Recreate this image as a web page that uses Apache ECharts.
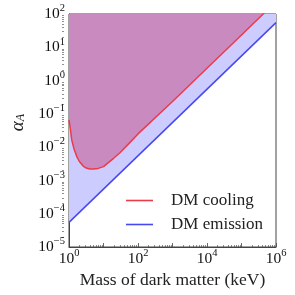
<!DOCTYPE html>
<html><head><meta charset="utf-8">
<script src="https://cdn.jsdelivr.net/npm/echarts@6/dist/echarts.min.js"></script>
<style>html,body{margin:0;padding:0;background:#fff}#c{width:295px;height:295px}</style>
</head><body><div id="c"></div>
<script>
// Data (keV, alpha_A)
const massCooling = [1, 1.1, 1.2, 1.4, 1.7, 2, 2.5, 3, 4, 5, 7, 10, 20, 30, 50, 100, 1e3, 1e4, 1e5, 1e6];
const alphaCooling = [0.066, 0.034, 0.0165, 0.0088, 0.0051, 0.0037, 0.0028, 0.0024, 0.0022, 0.0022, 0.0023, 0.0026, 0.0047, 0.0068, 0.0117, 0.025, 0.235, 2.35, 23.5, 235];
const massEmission = [1, 1e6];
const alphaEmission = [5.5e-5, 55];
const xMajor = [1, 10, 100, 1e3, 1e4, 1e5, 1e6];
const yMajor = [1e-5, 1e-4, 1e-3, 1e-2, 1e-1, 1, 10, 100];
const seriesNames = ['DM cooling', 'DM emission'];

function minorsOf(majors) {
  const out = [];
  for (let i = 0; i < majors.length - 1; i++) for (let k = 2; k <= 9; k++) out.push(majors[i] * k);
  return out;
}
const xMinor = minorsOf(xMajor);
const yMinor = minorsOf(yMajor);

const FONT = 'Liberation Serif';
const AX = '#444';
const rich = {
  b: {fontFamily: FONT, fontSize: 15.5, color: '#111', lineHeight: 16, verticalAlign: 'bottom'},
  s: {fontFamily: FONT, fontSize: 10.5, color: '#111', lineHeight: 10, verticalAlign: 'bottom', padding: [0, 0, 8, 0]}
};
function powLabel(v) {
  const e = Math.round(Math.log10(v));
  return '{b|10}{s|' + (e < 0 ? '\u2212' + (-e) : e) + '}';
}
const zip = (a, b) => a.map((v, i) => [v, b[i]]);

const chart = echarts.init(document.getElementById('c'), null, {renderer: 'canvas'});
chart.setOption({
  animation: false,
  grid: {left: 62, right: 19, top: 14, bottom: 48, show: true, borderColor: AX, borderWidth: 1, backgroundColor: 'transparent'},
  legend: {
    data: seriesNames.map(n => ({name: n, icon: 'rect'})),
    orient: 'vertical', left: 121, top: 187, itemWidth: 27, itemHeight: 1.6, itemGap: 7,
    textStyle: {fontFamily: FONT, fontSize: 17, color: '#222', lineHeight: 17, padding: [0, 0, 0, 13]}
  },
  xAxis: [{
    type: 'log', logBase: 10, min: 1, max: 1e6, position: 'bottom',
    axisLine: {show: true, onZero: false, lineStyle: {color: AX, width: 1}},
    axisTick: {show: true, inside: true, length: 4, customValues: xMajor, lineStyle: {color: AX, width: 0.8}},
    axisLabel: {customValues: xMajor, margin: 4, formatter: v => (Math.round(Math.log10(v)) % 2 === 0 ? powLabel(v) : ''), rich: rich},
    splitLine: {show: false}, minorTick: {show: false},
    name: 'Mass of dark matter (keV)', nameLocation: 'middle', nameGap: 20,
    nameTextStyle: {fontFamily: FONT, fontSize: 17.5, color: '#222'}
  }, {
    type: 'log', logBase: 10, min: 1, max: 1e6, position: 'top', offset: -233,
    axisLine: {show: false, onZero: false},
    axisTick: {show: true, inside: false, length: 2, customValues: xMinor, lineStyle: {color: AX, width: 0.6}},
    axisLabel: {show: false}, splitLine: {show: false}
  }],
  yAxis: [{
    type: 'log', logBase: 10, min: 1e-5, max: 100, position: 'left',
    axisLine: {show: true, onZero: false, lineStyle: {color: AX, width: 1}},
    axisTick: {show: true, inside: true, length: 4, customValues: yMajor, lineStyle: {color: AX, width: 0.8}},
    axisLabel: {customValues: yMajor, margin: 4, formatter: powLabel, rich: rich},
    splitLine: {show: false},
    name: '{a|\u03b1}{sub|A}', nameLocation: 'middle', nameRotate: 90, nameGap: 42,
    nameTextStyle: {
      padding: [0, 0, 0, 16],
      rich: {
        a: {fontFamily: FONT, fontStyle: 'italic', fontSize: 19, color: '#222', verticalAlign: 'bottom', lineHeight: 18},
        sub: {fontFamily: FONT, fontStyle: 'italic', fontSize: 12, color: '#222', verticalAlign: 'bottom', lineHeight: 12}
      }
    }
  }, {
    type: 'log', logBase: 10, min: 1e-5, max: 100, position: 'right', offset: -214,
    axisLine: {show: false, onZero: false},
    axisTick: {show: true, inside: false, length: 2, customValues: yMinor, lineStyle: {color: AX, width: 0.6}},
    axisLabel: {show: false}, splitLine: {show: false}
  }],
  series: [{
    name: 'DM emission', type: 'line', data: zip(massEmission, alphaEmission),
    xAxisIndex: 0, yAxisIndex: 0, symbol: 'none', color: '#4848f2', clip: true, z: 2,
    lineStyle: {color: '#4848f2', width: 1.5},
    areaStyle: {origin: 'end', color: '#ccccff', opacity: 1}
  }, {
    name: 'DM cooling', type: 'line', data: zip(massCooling, alphaCooling),
    xAxisIndex: 0, yAxisIndex: 0, symbol: 'none', color: '#ee3a48', clip: true, z: 3,
    lineStyle: {color: '#ee3a48', width: 1.5},
    areaStyle: {origin: 'end', color: '#c98bbf', opacity: 1}
  }]
});
</script></body></html>
